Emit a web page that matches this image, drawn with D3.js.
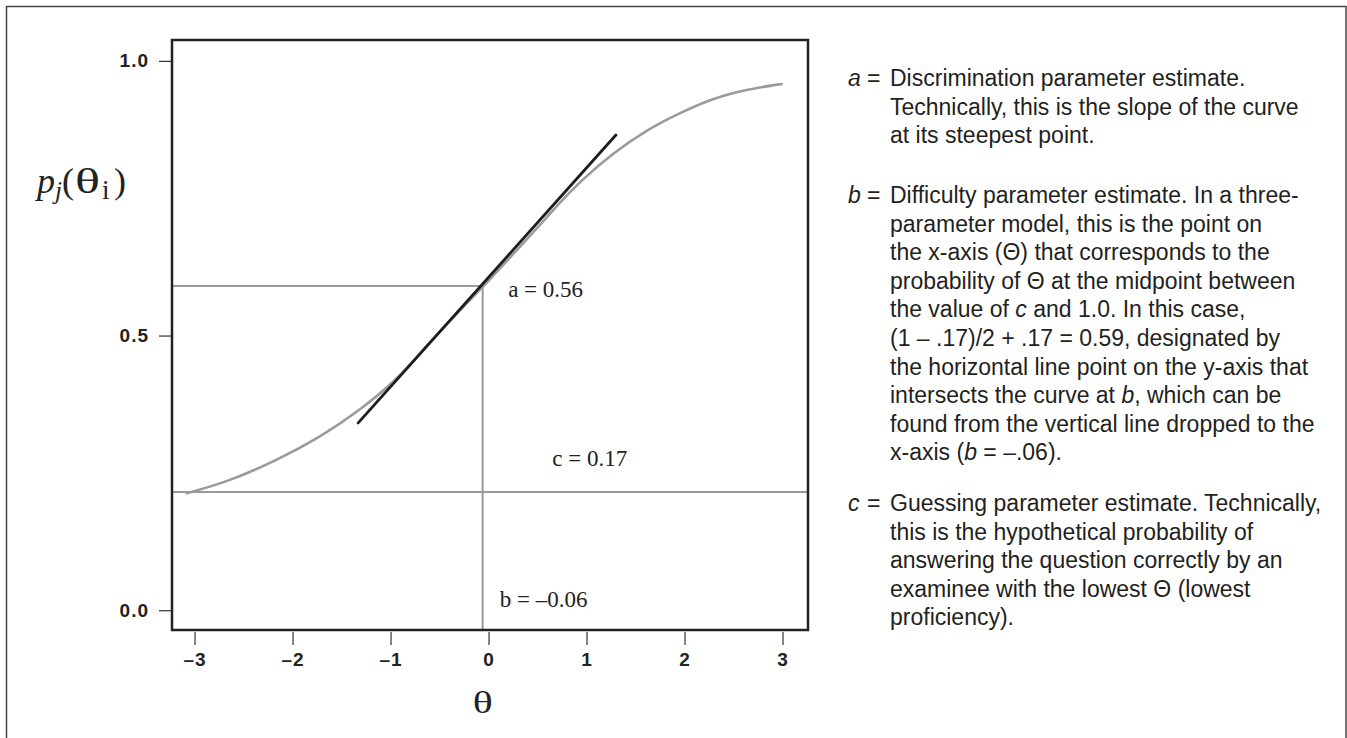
<!DOCTYPE html>
<meta charset="utf-8">
<style>
body { margin: 0; background: #fff; }
.curve { fill: none; stroke: #9b9b9b; stroke-width: 2.6px; }
.tangent { fill: none; stroke: #1e1e1e; stroke-width: 2.8px; }
.guide { stroke: #9a9a9a; stroke-width: 2px; }
.tick text { font-family: "Liberation Sans", Arial, sans-serif; font-weight: bold; font-size: 19px; fill: #222; letter-spacing: 1px; }
.tick line { stroke: #333; stroke-width: 1.2px; }
.note { font-family: "Liberation Serif", "Times New Roman", serif; font-size: 23px; fill: #222; }
.desc { font-family: "Liberation Sans", Arial, sans-serif; font-size: 23px; fill: #231f20; }
.title { font-family: "Liberation Serif", "Times New Roman", serif; fill: #222; }
</style>
<body>
<script src="https://d3js.org/d3.v7.min.js"></script>
<script>

// item characteristic curve
var thetaPts = [-3.08, -2.67, -2.16, -1.72, -1.31, -0.91, -0.67, -0.39, -0.06, 0.27, 0.60, 0.69, 0.93, 1.27, 1.61, 1.95, 2.29, 2.63, 2.99];
var probPts  = [0.213, 0.233, 0.273, 0.315, 0.364, 0.424, 0.474, 0.528, 0.588, 0.652, 0.716, 0.735, 0.780, 0.832, 0.874, 0.905, 0.932, 0.948, 0.958];

// tangent at the steepest point
var tangentTheta = [-1.33, 1.30];
var tangentProb  = [0.341, 0.865];

// guide lines
var bValue = -0.06;
var midProb = 0.59;
var cProb = 0.215;

var xTicks = [-3, -2, -1, 0, 1, 2, 3];
var yTicks = [0, 0.5, 1.0];
var yTickLabels = ["0.0", "0.5", "1.0"];

// labels placed in data units
var notes = [
  {text: "a = 0.56", theta: 0.20, p: 0.570},
  {text: "c = 0.17", theta: 0.65, p: 0.262},
  {text: "b = \u20130.06", theta: 0.115, p: 0.005}
];

var paragraphs = [
  {key: "a", lines: ["Discrimination parameter estimate.",
                     "Technically, this is the slope of the curve",
                     "at its steepest point."]},
  {key: "b", lines: ["Difficulty parameter estimate. In a three-",
                     "parameter model, this is the point on",
                     "the x-axis (\u0398) that corresponds to the",
                     "probability of \u0398 at the midpoint between",
                     "the value of |c| and 1.0. In this case,",
                     "(1 \u2013 .17)/2 + .17 = 0.59, designated by",
                     "the horizontal line point on the y-axis that",
                     "intersects the curve at |b|, which can be",
                     "found from the vertical line dropped to the",
                     "x-axis (|b| = \u2013.06)."]},
  {key: "c", lines: ["Guessing parameter estimate. Technically,",
                     "this is the hypothetical probability of",
                     "answering the question correctly by an",
                     "examinee with the lowest \u0398 (lowest",
                     "proficiency)."]}
];

var W = 1347, H = 738;
var box = {left: 172, top: 40, right: 808, bottom: 630};

var svg = d3.select("body").append("svg")
    .attr("width", W)
    .attr("height", H);

// outer frame
svg.append("rect")
    .attr("x", 6.5).attr("y", 6.5)
    .attr("width", 1339.5).attr("height", 760)
    .attr("fill", "none")
    .attr("stroke", "#444")
    .attr("stroke-width", 1.5);

var x = d3.scaleLinear().domain([-3.23, 3.26]).range([box.left, box.right]);
var y = d3.scaleLinear().domain([-0.036, 1.038]).range([box.bottom, box.top]);

// guide lines
svg.append("line").attr("class", "guide")
    .attr("x1", x.range()[0]).attr("x2", x(bValue))
    .attr("y1", y(midProb)).attr("y2", y(midProb));
svg.append("line").attr("class", "guide")
    .attr("x1", x(bValue)).attr("x2", x(bValue))
    .attr("y1", y(midProb)).attr("y2", y.range()[0]);
svg.append("line").attr("class", "guide")
    .attr("x1", x.range()[0]).attr("x2", x.range()[1])
    .attr("y1", y(cProb)).attr("y2", y(cProb));

// curve
var curvePts = thetaPts.map(function(t, i) { return [t, probPts[i]]; });
var line = d3.line()
    .x(function(d) { return x(d[0]); })
    .y(function(d) { return y(d[1]); })
    .curve(d3.curveBasis);

svg.append("path")
    .datum(curvePts)
    .attr("class", "curve")
    .attr("stroke-linecap", "round")
    .attr("d", line);

svg.append("path")
    .datum(tangentTheta.map(function(t, i) { return [t, tangentProb[i]]; }))
    .attr("class", "tangent")
    .attr("stroke-linecap", "round")
    .attr("d", d3.line().x(function(d) { return x(d[0]); }).y(function(d) { return y(d[1]); }));

// plot box
svg.append("rect")
    .attr("x", box.left).attr("y", box.top)
    .attr("width", box.right - box.left).attr("height", box.bottom - box.top)
    .attr("fill", "none")
    .attr("stroke", "#222")
    .attr("stroke-width", 2.5);

// axes
var xAxis = svg.append("g")
    .attr("transform", "translate(0," + (box.bottom + 2) + ")")
    .call(d3.axisBottom(x).tickValues(xTicks).tickSize(13).tickPadding(8)
      .tickFormat(function(d) { return d < 0 ? "\u2013" + Math.abs(d) : d; }));
xAxis.select(".domain").remove();

var yAxis = svg.append("g")
    .attr("transform", "translate(" + (box.left - 1) + ",0)")
    .call(d3.axisLeft(y).tickValues(yTicks).tickSize(12).tickPadding(10)
      .tickFormat(function(d, i) { return yTickLabels[i]; }));
yAxis.select(".domain").remove();

// annotations inside the plot
svg.selectAll(".note")
  .data(notes)
  .enter().append("text")
    .attr("class", "note")
    .attr("x", function(d) { return x(d.theta); })
    .attr("y", function(d) { return y(d.p); })
    .text(function(d) { return d.text; });

// y axis title p_j(theta_i)
var yt = svg.append("g").attr("class", "title");
yt.append("text").attr("x", 37).attr("y", 193).style("font-size", "36px").style("font-style", "italic").text("p");
yt.append("text").attr("x", 55).attr("y", 199).style("font-size", "25px").style("font-style", "italic").text("j");
yt.append("text").attr("x", 62).attr("y", 193).style("font-size", "36px").text("(");
yt.append("text").attr("x", 75).attr("y", 193).style("font-size", "36px")
    .attr("textLength", 25).attr("lengthAdjust", "spacingAndGlyphs").text("\u03b8");
yt.append("text").attr("x", 102).attr("y", 199).style("font-size", "27px").text("i");
yt.append("text").attr("x", 114).attr("y", 193).style("font-size", "36px").text(")");

// x axis title
svg.append("text")
    .attr("class", "title")
    .attr("x", x(bValue) - 10).attr("y", 713)
    .style("font-size", "31px")
    .attr("textLength", 20).attr("lengthAdjust", "spacingAndGlyphs")
    .text("\u03b8");

// explanation on the right
var lineH = 28.6;
var starts = [86, 203, 511];
paragraphs.forEach(function(p, k) {
  var y0 = starts[k];
  svg.append("text").attr("class", "desc")
      .attr("x", 848).attr("y", y0)
    .append("tspan").style("font-style", "italic").text(p.key);
  svg.append("text").attr("class", "desc")
      .attr("x", 867).attr("y", y0).text("=");
  p.lines.forEach(function(s, i) {
    var t = svg.append("text").attr("class", "desc")
        .attr("x", 890).attr("y", y0 + i * lineH);
    s.split("|").forEach(function(part, j) {
      t.append("tspan").style("font-style", j % 2 ? "italic" : "normal").text(part);
    });
  });
});

</script>
</body>
